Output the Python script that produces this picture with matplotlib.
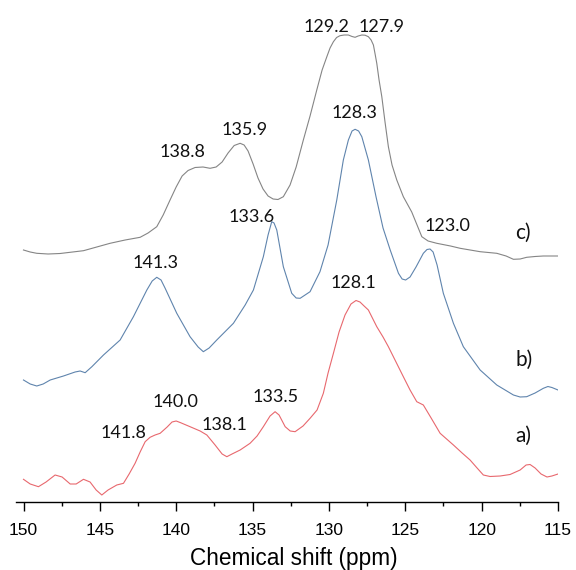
import matplotlib
matplotlib.use("Agg")
import matplotlib.pyplot as plt
from matplotlib.ticker import MultipleLocator

# a) red trace, ppm / intensity (arb. units)
ppm_a = [150.01, 149.57, 149.03, 148.53, 147.94, 147.48, 146.95, 146.56, 146.08, 145.65,
         145.25, 144.88, 144.47, 143.90, 143.46, 143.09, 142.70, 142.37, 142.04, 141.72,
         141.39, 141.06, 140.60, 140.28, 140.01, 139.75, 139.10, 138.44, 138.00, 137.46,
         137.00, 136.69, 136.35, 135.82, 135.17, 134.71, 134.30, 133.86, 133.53, 133.27,
         132.87, 132.54, 132.22, 131.70, 131.24, 130.78, 130.37, 130.06, 129.71, 129.34,
         128.95, 128.56, 128.23, 127.97, 127.70, 127.42, 126.87, 126.46, 126.11, 125.61,
         125.13, 124.69, 124.25, 123.82, 123.31, 122.72, 121.85, 121.28, 120.76, 120.30,
         119.89, 119.45, 118.79, 118.14, 117.48, 117.09, 116.83, 116.50, 116.11, 115.72,
         115.40, 115.00]
int_a = [22.7, 18, 15.3, 20, 27, 25, 18, 18, 22.7, 20,
         12, 7, 12, 17, 18.7, 28, 38.7, 50, 60.3, 64.7,
         67, 68.7, 75, 80, 81, 79.5, 75.3, 71, 67, 57,
         48, 45.3, 48, 52, 58.7, 66, 75.3, 86, 90.3, 87,
         75.3, 71, 70.3, 76, 83.7, 92, 108.7, 129, 148.7, 170,
         187, 198, 201.5, 200, 196, 192, 175.3, 165, 155.3, 140,
         125.3, 112, 100.3, 97, 84, 68.7, 57, 49, 42, 34,
         27, 25.5, 26, 27.5, 32, 37, 37.5, 34, 28, 25,
         26, 28]

# b) blue trace
ppm_b = [150.01, 149.57, 149.14, 148.72, 148.26, 147.39, 146.63, 146.30, 145.97, 145.53,
         144.77, 143.68, 142.81, 141.93, 141.58, 141.28, 141.00, 140.73, 139.97, 139.10,
         138.57, 138.23, 137.85, 137.35, 136.26, 135.49, 134.95, 134.30, 133.99, 133.75,
         133.60, 133.42, 132.99, 132.44, 132.15, 131.89, 131.24, 130.59, 130.06, 129.49,
         129.06, 128.73, 128.49, 128.29, 128.06, 127.85, 127.42, 126.92, 126.46, 125.99,
         125.45, 125.21, 124.98, 124.69, 124.30, 123.82, 123.58, 123.38, 123.18, 122.92,
         122.51, 121.85, 121.20, 120.10, 119.01, 117.92, 117.48, 117.05, 116.50, 115.96,
         115.66, 115.40, 115.00]
int_b = [122, 118, 116, 118, 122, 126, 130, 131, 129.3, 135.3,
         147, 162, 185.3, 212, 221, 224.7, 222, 213.7, 188.7, 165.3,
         155, 150.3, 154, 162, 178.7, 197, 212, 245.3, 267, 280.3,
         279, 272, 235.3, 208.7, 204, 203.7, 210.3, 230.3, 257, 302,
         342, 362, 371, 372.7, 371, 365.3, 342, 305.3, 274, 252,
         228.7, 223, 222, 225, 235, 248.7, 252.5, 253, 250, 237,
         208.7, 178.7, 155.3, 132, 117, 107, 105, 105.3, 109, 113.7,
         115.5, 114.5, 112]

# c) grey trace
ppm_c = [150.01, 149.57, 149.14, 148.40, 147.61, 146.08, 144.34, 143.35, 142.37, 141.85,
         141.28, 140.86, 140.41, 140.01, 139.62, 139.23, 138.77, 138.25, 137.79, 137.39,
         137.00, 136.61, 136.21, 135.82, 135.56, 135.30, 134.97, 134.65, 134.32, 133.99,
         133.66, 133.34, 132.99, 132.55, 132.15, 131.68, 131.24, 130.80, 130.45, 130.14,
         129.93, 129.71, 129.50, 129.28, 129.01, 128.73, 128.49, 128.29, 128.09, 127.85,
         127.64, 127.42, 127.24, 127.09, 126.98, 126.87, 126.72, 126.54, 126.33, 126.11,
         125.87, 125.56, 125.13, 124.58, 123.92, 123.51, 122.94, 122.04, 121.41, 120.10,
         119.01, 118.40, 117.92, 117.48, 117.05, 116.50, 115.96, 115.00]
int_c = [252, 250, 248.7, 248, 248.5, 251.3, 258.7, 262, 264.7, 269,
         275.3, 287, 302, 315, 326, 331.5, 334.5, 335, 333.7, 335,
         340, 349, 356.5, 358.7, 357, 351, 338, 324, 313, 306,
         303, 302.5, 305.3, 317, 335, 362, 386, 412, 432, 445.3,
         454, 460.3, 464.5, 466.3, 467, 467, 465.5, 464.7, 466, 467,
         466.8, 465.3, 462, 457, 448, 438.7, 422, 405.3, 380, 355.3,
         337, 322, 305.3, 290, 265.3, 261, 258.7, 256, 253.7, 250.3,
         248.7, 246, 242.7, 243, 244.7, 245.5, 246, 246]

# peak labels: text, ppm, height
peak_labels = [("129.2", 130.19, 475), ("127.9", 126.56, 475), ("128.3", 128.36, 389),
               ("135.9", 135.53, 372), ("138.8", 139.59, 350), ("133.6", 135.07, 285),
               ("141.3", 141.39, 239), ("123.0", 122.23, 276), ("128.1", 128.39, 219),
               ("140.0", 140.05, 100), ("138.1", 136.87, 77), ("141.8", 143.44, 69),
               ("133.5", 133.53, 105)]
trace_labels = [("c)", 117.29, 269), ("b)", 117.22, 142), ("a)", 117.29, 66)]

fig = plt.figure(figsize=(5.76, 5.70), dpi=100)
ax = fig.add_axes([16 / 576, 68 / 570, 542 / 576, 502 / 570])

ax.plot(ppm_c, int_c, color="#858585", lw=0.8)
ax.plot(ppm_b, int_b, color="#5f84ad", lw=0.8)
ax.plot(ppm_a, int_a, color="#e8686e", lw=0.8)

for txt, x, y in peak_labels:
    ax.text(x, y, txt, ha="center", va="center", fontsize=13, family="Lato", color="#111111")
for txt, x, y in trace_labels:
    ax.text(x, y, txt, ha="center", va="center", fontsize=15, family="Lato", color="#111111")

ax.set_xlim(150.5, 115)
ax.set_ylim(0, 502)
for s in ["top", "left", "right"]:
    ax.spines[s].set_visible(False)
ax.spines["bottom"].set_linewidth(1.0)
ax.set_yticks([])
ax.xaxis.set_major_locator(MultipleLocator(5))
ax.xaxis.set_minor_locator(MultipleLocator(2.5))
ax.tick_params(axis="x", which="major", direction="out", length=6.5, width=1.0, pad=8.5)
ax.tick_params(axis="x", which="minor", direction="out", length=3, width=1.0)
for lab in ax.get_xticklabels():
    lab.set_family("Liberation Sans")
    lab.set_fontsize(12.5)
ax.set_xlabel("Chemical shift (ppm)", family="Liberation Sans", fontsize=16.3, labelpad=6.5)
ax.xaxis.label.set_x(0.513)

fig.savefig("out.png", dpi=100)
